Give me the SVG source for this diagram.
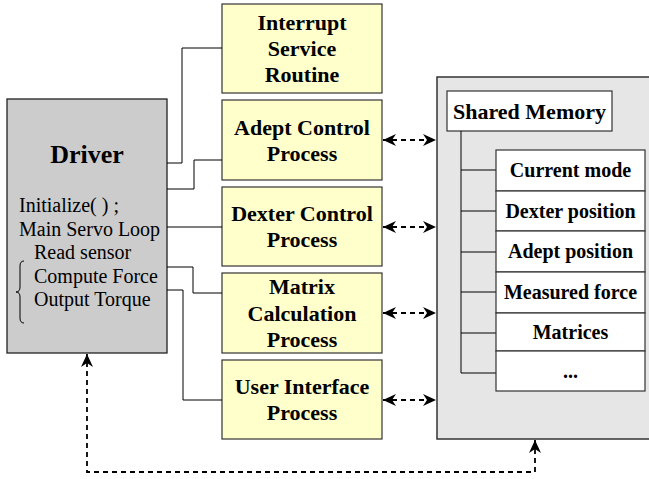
<svg xmlns="http://www.w3.org/2000/svg" width="649" height="479" viewBox="0 0 649 479" font-family="'Liberation Serif', 'Times New Roman', 'DejaVu Serif', serif">
<defs>
<marker id="ah" viewBox="0 0 13 12" refX="13" refY="6" markerWidth="13" markerHeight="12" markerUnits="userSpaceOnUse" orient="auto-start-reverse">
<path d="M0,0 L13,6 L0,12 L4,6 Z" fill="#000"/>
</marker>
</defs>
<style>
text{font-family:'Liberation Serif','Times New Roman','DejaVu Serif',serif}
.proc{fill:#ffffcc;stroke:#333;stroke-width:1.2}
.t{font-weight:bold;font-size:22px;text-anchor:middle;fill:#000}
.d{font-size:20px;fill:#000}
.ln{fill:none;stroke:#000;stroke-width:1}
.dash{fill:none;stroke:#000;stroke-width:1.8;stroke-dasharray:5,4}
.cell{fill:#fff;stroke:#333;stroke-width:1.2}
.it{font-weight:bold;font-size:20px;text-anchor:middle;fill:#000}
</style>
<rect width="649" height="479" fill="#fff"/>
<g id="shared">
<rect x="437" y="77" width="220" height="362" fill="#e6e6e6" stroke="#333" stroke-width="1.5"/>
<rect x="447" y="91" width="165" height="40" class="cell"/>
<text x="529.5" y="119" class="t">Shared Memory</text>
<path class="ln" d="M461,131 V373 M461,170 H496 M461,211 H496 M461,252 H496 M461,292 H496 M461,333 H496 M461,373 H496"/>
<rect x="496" y="150" width="149" height="41" class="cell"/>
<rect x="496" y="191" width="149" height="40" class="cell"/>
<rect x="496" y="231" width="149" height="41" class="cell"/>
<rect x="496" y="272" width="149" height="41" class="cell"/>
<rect x="496" y="313" width="149" height="38" class="cell"/>
<rect x="496" y="351" width="149" height="40" class="cell"/>
<text x="570.5" y="177" class="it">Current mode</text>
<text x="570.5" y="218" class="it">Dexter position</text>
<text x="570.5" y="258" class="it">Adept position</text>
<text x="570.5" y="299" class="it">Measured force</text>
<text x="570.5" y="339" class="it">Matrices</text>
<text x="570.5" y="378" class="it">...</text>
</g>
<g id="driver">
<rect x="7" y="99" width="160" height="254" fill="#cccccc" stroke="#222" stroke-width="1.3"/>
<text x="87" y="163" class="t" style="font-size:26px">Driver</text>
<text x="19" y="212" class="d">Initialize( ) ;</text>
<text x="19" y="236" class="d">Main Servo Loop</text>
<text x="34" y="259" class="d">Read sensor</text>
<text x="34" y="283" class="d">Compute Force</text>
<text x="34" y="306" class="d">Output Torque</text>
<path class="ln" d="M24,261 Q20,261 20,266 V287 Q20,292 16,292 Q20,292 20,297 V318 Q20,323 24,323"/>
</g>
<g id="isr">
<rect x="222" y="4" width="160" height="89" class="proc"/>
<text x="302" y="30" class="t">Interrupt</text>
<text x="302" y="56" class="t">Service</text>
<text x="302" y="82" class="t">Routine</text>
</g>
<g id="adept">
<rect x="222" y="100" width="160" height="80" class="proc"/>
<text x="302" y="135" class="t">Adept Control</text>
<text x="302" y="161" class="t">Process</text>
</g>
<g id="dexter">
<rect x="222" y="187" width="160" height="79" class="proc"/>
<text x="302" y="221" class="t">Dexter Control</text>
<text x="302" y="247" class="t">Process</text>
</g>
<g id="matrix">
<rect x="222" y="273" width="160" height="80" class="proc"/>
<text x="302" y="294" class="t">Matrix</text>
<text x="302" y="321" class="t">Calculation</text>
<text x="302" y="347" class="t">Process</text>
</g>
<g id="ui">
<rect x="222" y="360" width="160" height="79" class="proc"/>
<text x="302" y="394" class="t">User Interface</text>
<text x="302" y="420" class="t">Process</text>
</g>
<g id="connectors">
<path class="ln" d="M167,163 H182 V48 H222"/>
<path class="ln" d="M167,189 H194 V160 H222"/>
<path class="ln" d="M167,227 H222"/>
<path class="ln" d="M167,267 H193 V293 H222"/>
<path class="ln" d="M167,290 H183 V400 H222"/>
<path class="dash" d="M383,140 H436" marker-start="url(#ah)" marker-end="url(#ah)"/>
<path class="dash" d="M383,227 H436" marker-start="url(#ah)" marker-end="url(#ah)"/>
<path class="dash" d="M383,313 H436" marker-start="url(#ah)" marker-end="url(#ah)"/>
<path class="dash" d="M383,400 H436" marker-start="url(#ah)" marker-end="url(#ah)"/>
<path class="dash" d="M535,440 V472 H87 V354" marker-start="url(#ah)" marker-end="url(#ah)"/>
</g>
</svg>
